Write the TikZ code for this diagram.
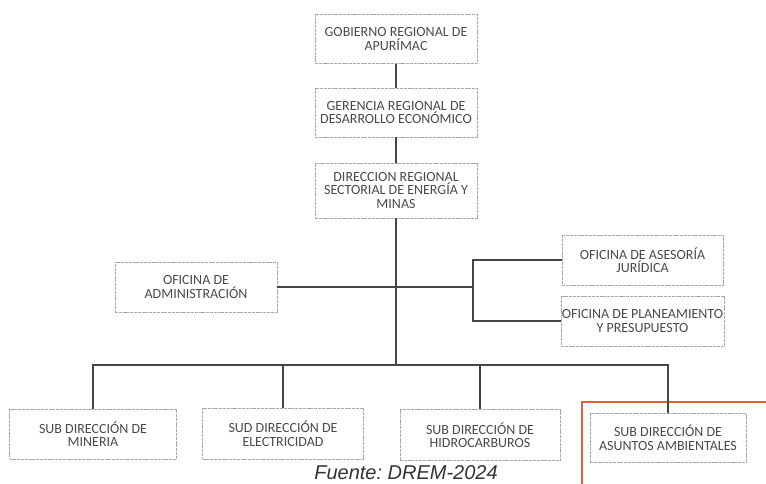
\documentclass[tikz,border=0pt]{standalone}
\usepackage{fontspec}
\setmainfont{Carlito}
\newfontfamily\capfont{Liberation Sans}
\frenchspacing
\definecolor{boxline}{HTML}{A8A8A8}
\definecolor{boxtext}{HTML}{4A4A4A}
\definecolor{connc}{HTML}{454545}
\definecolor{orangec}{HTML}{E2623A}
\tikzset{
  orgbox/.style={draw=boxline, line width=0.7pt, dash pattern=on 3pt off 0.8pt,
    fill=white, align=center, text=boxtext, inner sep=0pt,
    font=\fontsize{14}{13.5}\selectfont, minimum width=162pt, minimum height=49pt},
  conn/.style={draw=connc, line width=1.4pt},
}
\begin{document}
\begin{tikzpicture}[x=1pt,y=-1pt]
\useasboundingbox (0,0) rectangle (766,484);
\fill[white] (0,0) rectangle (766,484);
% orange highlight
\draw[orangec, line width=2.4pt] (582,402) rectangle (790,510);
% nodes
\node[orgbox] (gob) at (396,39) {GOBIERNO REGIONAL DE\\APURÍMAC};
\node[orgbox] (ger) at (396,112.5) {GERENCIA REGIONAL DE\\DESARROLLO ECONÓMICO};
\node[orgbox, minimum height=55pt] (dir) at (396,190.5) {DIRECCION REGIONAL\\SECTORIAL DE ENERGÍA Y\\MINAS};
\node[orgbox, minimum height=50pt] (adm) at (196,287) {OFICINA DE\\ADMINISTRACIÓN};
\node[orgbox, minimum width=161pt, minimum height=50pt] (ase) at (642.5,260) {OFICINA DE ASESORÍA\\JURÍDICA};
\node[orgbox, minimum width=163pt, minimum height=50pt] (pla) at (642.5,321) {OFICINA DE PLANEAMIENTO\\Y PRESUPUESTO};
\node[orgbox, minimum width=167pt, minimum height=50pt] (min) at (93,434) {SUB DIRECCIÓN DE\\MINERIA};
\node[orgbox, minimum width=161pt, minimum height=51pt] (ele) at (283,433.5) {SUD DIRECCIÓN DE\\ELECTRICIDAD};
\node[orgbox, minimum width=160pt, minimum height=51pt] (hid) at (480,435) {SUB DIRECCIÓN DE\\HIDROCARBUROS};
\node[orgbox, minimum width=156pt, minimum height=49pt] (amb) at (668,437.5) {SUB DIRECCIÓN DE\\ASUNTOS AMBIENTALES};
% helper coordinates
\coordinate (bus) at (396,365);
\coordinate (br) at (473,287);
% connectors
\draw[conn] (gob) -- (ger);
\draw[conn] (ger) -- (dir);
\draw[conn] (dir.south) -- (bus);
\draw[conn] (adm.east) -- (adm.east -| dir.south);
\draw[conn] (dir.south |- br) -- (br);
\draw[conn] (ase.west) -| (br) |- (pla.west);
\draw[conn] (min.north) |- (bus) -| (amb.north);
\draw[conn] (ele.north) -- (ele.north |- bus);
\draw[conn] (hid.north) -- (hid.north |- bus);
% caption
\node[font=\capfont\itshape\fontsize{20}{20}\selectfont, text=black!80, anchor=base, inner sep=0pt] (cap) at (406,479) {Fuente: DREM-2024};
\end{tikzpicture}
\end{document}
